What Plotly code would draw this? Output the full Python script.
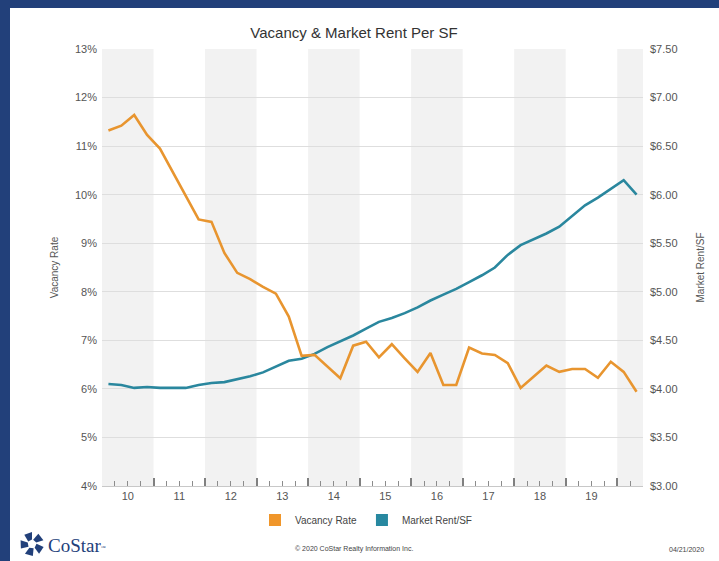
import math
import plotly.graph_objects as go

# ---- data ----
years = list(range(2010, 2021))
quarters = [f"{y}Q{q}" for y in range(2010, 2021) for q in range(1, 5)][:42]
vacancy_rate = [11.32, 11.42, 11.64, 11.23, 10.95, 10.47, 9.98, 9.49, 9.44, 8.80,
                8.39, 8.26, 8.10, 7.96, 7.49, 6.68, 6.70, 6.45, 6.22, 6.89,
                6.97, 6.65, 6.92, 6.63, 6.35, 6.74, 6.08, 6.08, 6.85, 6.73,
                6.70, 6.53, 6.02, 6.25, 6.48, 6.35, 6.41, 6.41, 6.23, 6.56,
                6.35, 5.94]
market_rent = [4.05, 4.04, 4.01, 4.02, 4.01, 4.01, 4.01, 4.04, 4.06, 4.07,
               4.10, 4.13, 4.17, 4.23, 4.29, 4.31, 4.36, 4.43, 4.49, 4.55,
               4.62, 4.69, 4.73, 4.78, 4.84, 4.91, 4.97, 5.03, 5.10, 5.17,
               5.25, 5.38, 5.48, 5.54, 5.60, 5.67, 5.78, 5.89, 5.97, 6.06,
               6.15, 6.00]
year_labels = ["10", "11", "12", "13", "14", "15", "16", "17", "18", "19"]
vac_ticks = list(range(4, 14))
rent_ticks = [3.0, 3.5, 4.0, 4.5, 5.0, 5.5, 6.0, 6.5, 7.0, 7.5]

ORANGE = "#e8952f"
TEAL = "#2a879e"
NAVY = "#22407a"
FONT = "Liberation Sans, Arial, sans-serif"

xq = [int(s[:4]) + (int(s[-1]) - 0.5) / 4 for s in quarters]

fig = go.Figure()
# vacancy on overlay x-axis (x2) which carries the tick marks; rent on main x (labels)
fig.add_trace(go.Scatter(x=xq, y=market_rent, mode="lines", name="Market Rent/SF",
                         line=dict(color=TEAL, width=2.6), showlegend=False,
                         xaxis="x", yaxis="y2"))
fig.add_trace(go.Scatter(x=xq, y=vacancy_rate, mode="lines", name="Vacancy Rate",
                         line=dict(color=ORANGE, width=2.6), showlegend=False,
                         xaxis="x2", yaxis="y"))
# legend entries (square swatches)
fig.add_trace(go.Scatter(x=[None], y=[None], mode="markers", name="Vacancy Rate",
                         marker=dict(symbol="square", size=11, color="#f0962a")))
fig.add_trace(go.Scatter(x=[None], y=[None], mode="markers", name="Market Rent/SF",
                         marker=dict(symbol="square", size=11, color="#2788a0")))

# plot geometry (px)
W, H = 719, 561
L, R, T, B = 102, 76, 49, 75
pw, ph = W - L - R, H - T - B

def px(x):
    return (x - L) / pw

def py(y):
    return (H - B - y) / ph

shapes = []
# white card over navy page
shapes.append(dict(type="rect", xref="paper", yref="paper", x0=px(10), x1=px(W + 10),
                   y0=py(H + 10), y1=py(8), fillcolor="white", line=dict(width=0), layer="below"))
# alternating year bands
for y in years[::2]:
    shapes.append(dict(type="rect", xref="x", yref="paper", x0=y, x1=min(y + 1, 2020.5),
                       y0=0, y1=1, fillcolor="#f2f2f2", line=dict(width=0), layer="below"))

# CoStar logo pieces (decorative)
cx, cy = 32, 544
for k in range(5):
    a = math.radians(90 + 72 * k)
    b = a + math.radians(40)
    r1, r2 = 4.5, 12
    pts = [(cx + r1 * math.cos(a), cy - r1 * math.sin(a)),
           (cx + r2 * math.cos(a), cy - r2 * math.sin(a)),
           (cx + r2 * math.cos(b), cy - r2 * math.sin(b)),
           (cx + r1 * math.cos(b + 0.3), cy - r1 * math.sin(b + 0.3))]
    path = "M " + " L ".join(f"{px(p[0]):.5f},{py(p[1]):.5f}" for p in pts) + " Z"
    shapes.append(dict(type="path", xref="paper", yref="paper", path=path,
                       fillcolor=NAVY, line=dict(width=0), layer="above"))

annotations = [
    dict(text="CoStar<span style='font-size:7px'><sup>™</sup></span>", xref="paper", yref="paper",
         x=px(46), y=py(545), xanchor="left", yanchor="middle", showarrow=False,
         font=dict(family="Liberation Serif, Times New Roman, serif", size=19, color=NAVY)),
    dict(text="© 2020 CoStar Realty Information Inc.", xref="paper", yref="paper",
         x=px(354), y=py(549), xanchor="center", yanchor="middle", showarrow=False,
         font=dict(family=FONT, size=7, color="#444")),
    dict(text="04/21/2020", xref="paper", yref="paper", x=px(706), y=py(549),
         xanchor="right", yanchor="middle", showarrow=False,
         font=dict(family=FONT, size=7, color="#444")),
]

fig.update_layout(
    width=W, height=H,
    margin=dict(l=L, r=R, t=T, b=B, pad=0),
    paper_bgcolor=NAVY, plot_bgcolor="white",
    font=dict(family=FONT, size=11, color="#555"),
    title=dict(text="Vacancy & Market Rent Per SF", x=px(354), xref="paper", xanchor="center",
               y=1 - 33 / H, yref="container", yanchor="middle",
               font=dict(family=FONT, size=15, color="#333")),
    xaxis=dict(range=[2010, 2020.5], tickmode="array",
               tickvals=[y + 0.5 for y in years[:-1]], ticktext=year_labels,
               ticks="", showgrid=False, zeroline=False, showline=True,
               linecolor="#c8c8c8", linewidth=1, tickfont=dict(size=11, color="#555"),
               fixedrange=True),
    xaxis2=dict(range=[2010, 2020.5], overlaying="x", anchor="y", side="bottom",
                tickmode="linear", tick0=2010, dtick=1, showticklabels=False,
                ticks="inside", ticklen=8, tickwidth=2, tickcolor="#808080",
                showgrid=False, zeroline=False, showline=False,
                minor=dict(tickmode="linear", tick0=2010, dtick=0.25, ticks="inside",
                           ticklen=5, tickwidth=1, tickcolor="#8c8c8c", showgrid=False)),
    yaxis=dict(range=[4, 13], tickmode="array", tickvals=vac_ticks,
               ticktext=[f"{v}%" for v in vac_ticks], showgrid=True,
               gridcolor="#dedede", gridwidth=1, zeroline=False, showline=False,
               ticks="", ticklabelstandoff=4,
               title=dict(text="Vacancy Rate", standoff=14,
                          font=dict(size=10, color="#555")),
               tickfont=dict(size=11, color="#555")),
    yaxis2=dict(range=[3, 7.5], overlaying="y", side="right", anchor="x", tickmode="array",
                tickvals=rent_ticks, ticktext=[f"${v:.2f}" for v in rent_ticks],
                showgrid=False, zeroline=False, showline=False, ticks="",
                ticklabelstandoff=6,
                title=dict(text="Market Rent/SF", standoff=20,
                           font=dict(size=10, color="#555")),
                tickfont=dict(size=11, color="#555")),
    legend=dict(orientation="h", x=px(366), xanchor="center", y=py(520), yanchor="middle",
                font=dict(size=10, color="#444"), bgcolor="rgba(0,0,0,0)",
                itemsizing="constant", traceorder="normal"),
    shapes=shapes,
    annotations=annotations,
    showlegend=True,
)

fig.write_html("out.html", config={"displayModeBar": False},
               post_script="document.body.style.margin='0';")
